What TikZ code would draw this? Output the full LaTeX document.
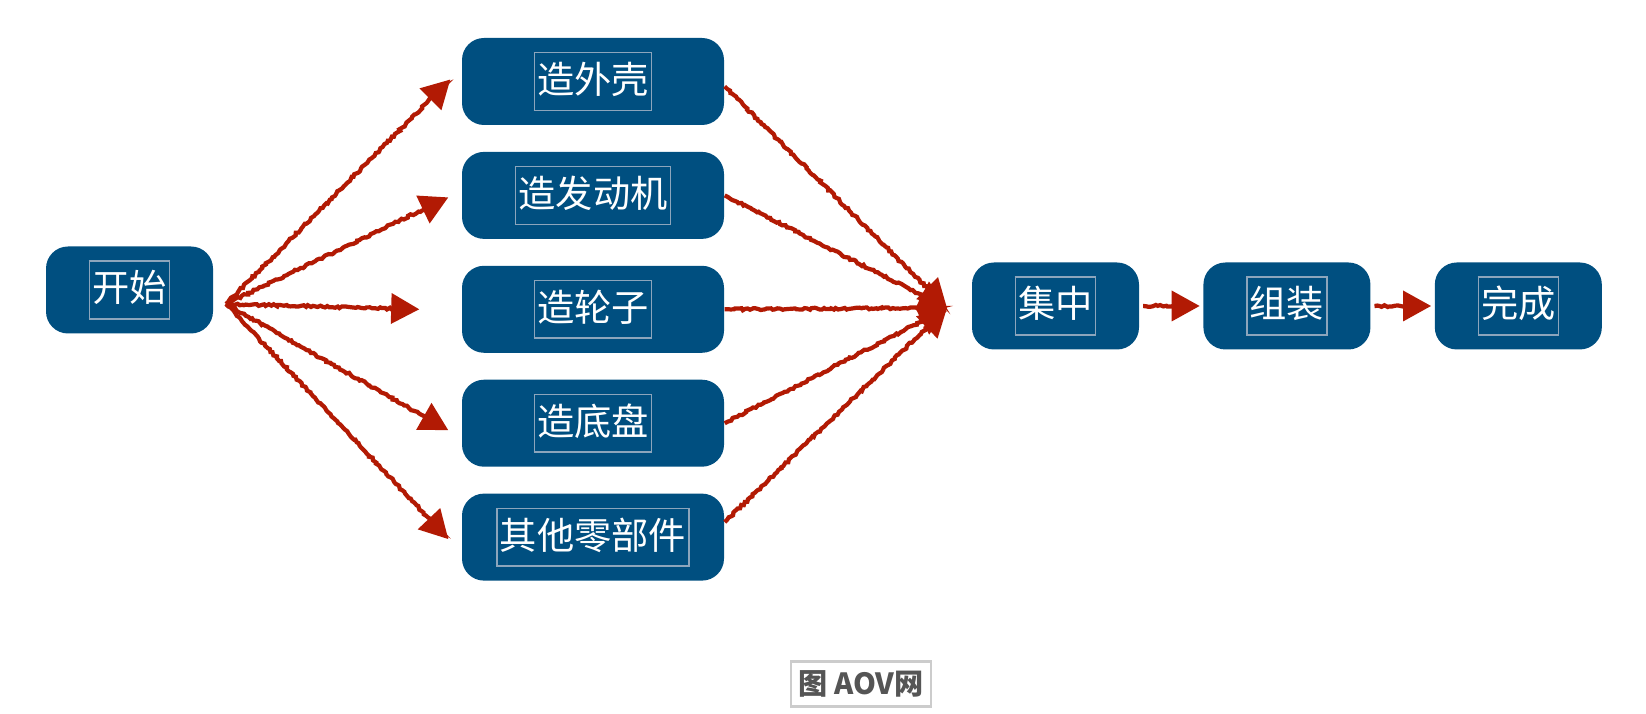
\documentclass[tikz,border=0pt]{standalone}
\usepackage{fontspec}
\usepackage{xcolor}
\usetikzlibrary{arrows.meta,decorations.pathmorphing,positioning,calc}
\newfontfamily\cjk{Noto Sans CJK SC}
\definecolor{boxblue}{RGB}{0,79,128}
\definecolor{txtframe}{RGB}{140,165,188}
\definecolor{penred}{RGB}{178,26,4}
\definecolor{capgray}{RGB}{85,85,85}
\definecolor{capframe}{RGB}{204,204,204}
\newcommand{\steptext}[1]{{\setlength{\fboxsep}{0.6pt}\setlength{\fboxrule}{0.4pt}\fcolorbox{txtframe}{boxblue}{\rule[-4pt]{0pt}{14.8pt}\color{white}#1}}}

\begin{document}
\begin{tikzpicture}[x=1cm,y=1cm,
  stepbox/.style={fill=boxblue,rounded corners=0.22cm,minimum width=2.62cm,minimum height=0.87cm,inner sep=0pt,font=\cjk\fontsize{10.6}{12}\selectfont},
  smallbox/.style={stepbox,minimum width=1.67cm},
  pen/.style={draw=penred,line width=1.2pt,-{Triangle[length=8pt,width=8.5pt]},decorate,decoration={random steps,segment length=0.7pt,amplitude=0.3pt,pre length=1pt,post length=3pt}}]
\useasboundingbox (0,0) rectangle (16.46,7.14);
\pgfmathsetseed{12}

\node[smallbox] (start) at (1.295,4.24) {\steptext{开始}};
\node[stepbox] (shell) at (5.93,6.325) {\steptext{造外壳}};
\node[stepbox,below=0.255cm of shell] (engine) {\steptext{造发动机}};
\node[stepbox,below=0.255cm of engine] (wheel) {\steptext{造轮子}};
\node[stepbox,below=0.255cm of wheel] (chassis) {\steptext{造底盘}};
\node[stepbox,below=0.255cm of chassis] (parts) {\steptext{其他零部件}};
\node[smallbox] (gather) at (10.555,4.08) {\steptext{集中}};
\node[smallbox,right=0.63cm of gather] (assemble) {\steptext{组装}};
\node[smallbox,right=0.63cm of assemble] (finish) {\steptext{完成}};

\coordinate (fork) at (2.26,4.10);
\coordinate (hub) at (9.47,4.06);

\draw[pen] (fork) -- ($(shell.west)+(-0.11,0.02)$);
\draw[pen] (fork) -- ($(engine.west)+(-0.13,-0.02)$);
\draw[pen] (fork) -- ($(wheel.west)+(-0.42,0)$);
\draw[pen] (fork) -- ($(chassis.west)+(-0.13,-0.07)$);
\draw[pen] (fork) -- ($(parts.west)+(-0.13,-0.02)$);

\draw[pen] ([yshift=-0.05cm]shell.east) -- (hub);
\draw[pen] (engine.east) -- (hub);
\draw[pen] (wheel.east) -- (hub);
\draw[pen] (chassis.east) -- (hub);
\draw[pen] ([yshift=0.15cm]parts.east) -- (hub);

\draw[pen,shorten <=0.05cm] (gather) -- ($(assemble.west)+(-0.03,0)$);
\draw[pen,shorten <=0.05cm] (assemble) -- ($(finish.west)+(-0.03,0)$);

\node[draw=capframe,line width=0.6pt,minimum width=1.40cm,minimum height=0.45cm,inner sep=0pt,text=capgray,font=\cjk\bfseries\fontsize{8.3}{10}\selectfont] (caption) at (8.61,0.30) {图 AOV网};
\end{tikzpicture}
\end{document}
